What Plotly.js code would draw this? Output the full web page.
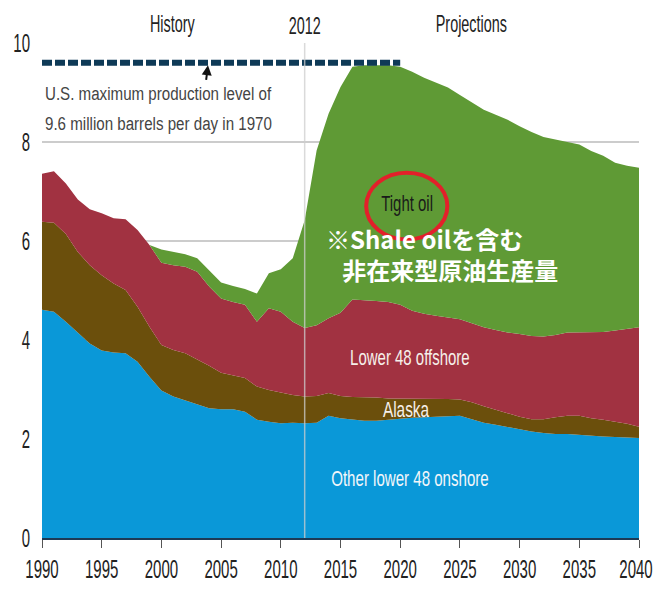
<!DOCTYPE html>
<html>
<head>
<meta charset="utf-8">
<script src="https://cdn.plot.ly/plotly-3.0.1.min.js"></script>
<style>
  html, body { margin: 0; padding: 0; background: #ffffff; }
  #chart { width: 654px; height: 591px; }
</style>
</head>
<body>
<div id="chart"></div>
<script>
// ---- data (million barrels per day) ----
const years = [1990,1991,1992,1993,1994,1995,1996,1997,1998,1999,
               2000,2001,2002,2003,2004,2005,2006,2007,2008,2009,
               2010,2011,2012,2013,2014,2015,2016,2017,2018,2019,
               2020,2021,2022,2023,2024,2025,2026,2027,2028,2029,
               2030,2031,2032,2033,2034,2035,2036,2037,2038,2039,2040];

const onshore = [4.61,4.57,4.37,4.14,3.93,3.79,3.75,3.73,3.56,3.26,
                 2.98,2.86,2.78,2.71,2.62,2.60,2.60,2.55,2.39,2.35,
                 2.32,2.33,2.32,2.33,2.47,2.42,2.39,2.37,2.37,2.39,
                 2.42,2.43,2.44,2.45,2.47,2.47,2.40,2.33,2.29,2.24,
                 2.19,2.15,2.12,2.10,2.10,2.08,2.06,2.05,2.04,2.03,2.02];

const alaska = [1.78,1.80,1.77,1.64,1.58,1.52,1.39,1.28,1.11,1.01,
                0.92,0.94,0.95,0.90,0.86,0.74,0.68,0.68,0.67,0.64,
                0.62,0.56,0.54,0.54,0.46,0.45,0.46,0.48,0.47,0.43,
                0.40,0.39,0.37,0.36,0.34,0.33,0.34,0.33,0.30,0.27,
                0.26,0.25,0.28,0.34,0.37,0.39,0.36,0.34,0.31,0.28,0.23];

const offshore = [0.97,1.04,1.02,1.06,1.13,1.25,1.32,1.43,1.55,1.65,
                  1.66,1.71,1.75,1.77,1.60,1.50,1.49,1.48,1.31,1.65,
                  1.63,1.48,1.38,1.43,1.51,1.68,1.97,1.96,1.95,1.95,
                  1.89,1.77,1.72,1.68,1.65,1.62,1.60,1.60,1.61,1.64,
                  1.67,1.68,1.67,1.66,1.68,1.68,1.74,1.77,1.84,1.91,2.01];

const tightOil = [0,0,0,0,0,0,0,0,0,0,
                  0.27,0.27,0.25,0.27,0.33,0.32,0.32,0.32,0.57,0.71,
                  0.86,1.28,2.18,3.53,4.13,4.56,4.70,4.74,4.76,4.78,
                  4.81,4.83,4.77,4.71,4.64,4.53,4.46,4.39,4.35,4.30,
                  4.20,4.12,4.03,3.95,3.85,3.80,3.66,3.56,3.39,3.30,3.22];

const maxLevelYears = [1990, 2020];
const maxLevelValue = [9.6, 9.6];

const xTicks = [1990,1995,2000,2005,2010,2015,2020,2025,2030,2035,2040];
const yTicks = [0,2,4,6,8,10];

// ---- styling ----
const SANS = '"Liberation Sans", Arial, sans-serif';
const CJK = '"Noto Sans CJK JP", "Noto Sans CJK SC", sans-serif';

function area(name, y, color) {
  return {
    x: years, y: y, name: name, type: 'scatter', mode: 'lines',
    stackgroup: 'one', line: {width: 0, color: color},
    fillcolor: color, hoverinfo: 'x+y+name'
  };
}

const traces = [
  area('Other lower 48 onshore', onshore, '#0a98d8'),
  area('Alaska', alaska, '#6b4f0c'),
  area('Lower 48 offshore', offshore, '#a13241'),
  area('Tight oil', tightOil, '#5f9a35'),
  {
    x: maxLevelYears, y: maxLevelValue, type: 'scatter', mode: 'lines',
    name: 'max level', line: {color: '#0e3a57', width: 6, dash: '10px,3px'},
    hoverinfo: 'skip'
  }
];

// horizontal condensing factor per annotation (the reference uses a narrow face)
const annSqueeze = [0.6, 0.6, 0.6, 0.84, 0.84, 1, 0.68, 1, 0.68, 0.7, 0.685];
const tickSqueeze = 0.6;

const layout = {
  width: 654, height: 591,
  margin: {l: 42, r: 15, t: 43, b: 53},
  paper_bgcolor: '#ffffff', plot_bgcolor: '#ffffff',
  showlegend: false,
  font: {family: SANS, color: '#222222'},
  xaxis: {
    range: [1990, 2040], tickvals: xTicks, ticktext: xTicks.map(String),
    showgrid: false, zeroline: false,
    showline: true, linecolor: '#1d3a55', linewidth: 2,
    ticks: 'outside', ticklen: 8, tickcolor: '#555555', tickwidth: 1,
    ticklabeloverflow: 'allow',
    tickfont: {family: SANS, size: 25, color: '#222222'}
  },
  yaxis: {
    range: [0, 10], tickvals: yTicks, ticktext: yTicks.map(String),
    showgrid: true, gridcolor: '#cccccc', gridwidth: 1.5,
    zeroline: false, showline: false, ticks: '',
    ticklabelstandoff: 11,
    tickfont: {family: SANS, size: 25, color: '#222222'}
  },
  shapes: [
    {type: 'line', xref: 'x', yref: 'y', x0: 2012, x1: 2012, y0: 0, y1: 10,
     line: {color: 'rgba(205,205,205,0.75)', width: 1.5}, layer: 'above'},
    {type: 'circle', xref: 'x', yref: 'y', x0: 2017.15, x1: 2023.95, y0: 6.03, y1: 7.38,
     line: {color: '#e3202a', width: 4}, layer: 'above'}
  ],
  annotations: [
    {text: 'History', xref: 'x', yref: 'paper', x: 2000.95, y: 1.0404, yanchor: 'middle',
     showarrow: false, font: {family: SANS, size: 24, color: '#222222'}},
    {text: '2012', xref: 'x', yref: 'paper', x: 2012, y: 1.0354, yanchor: 'middle',
     showarrow: false, font: {family: SANS, size: 24, color: '#222222'}},
    {text: 'Projections', xref: 'x', yref: 'paper', x: 2026.0, y: 1.0404, yanchor: 'middle',
     showarrow: false, font: {family: SANS, size: 24, color: '#222222'}},
    {text: 'U.S. maximum production level of', xref: 'x', yref: 'y',
     x: 1990.05, y: 8.975, xanchor: 'left', align: 'left', showarrow: false,
     font: {family: SANS, size: 18, color: '#444444'}},
    {text: '9.6 million barrels per day in 1970', xref: 'x', yref: 'y',
     x: 1990.05, y: 8.37, xanchor: 'left', align: 'left', showarrow: false,
     font: {family: SANS, size: 18, color: '#444444'}},
    {text: '', xref: 'x', yref: 'y', x: 2003.9, y: 9.55, showarrow: true,
     ax: -2, ay: 16, arrowhead: 2, arrowsize: 1, arrowwidth: 2,
     arrowcolor: '#111111', standoff: 0},
    {text: 'Tight oil', xref: 'x', yref: 'y', x: 2020.53, y: 6.76,
     showarrow: false, font: {family: SANS, size: 22, color: '#1a1a1a'}},
    {text: '<b>※Shale oilを含む<br>&nbsp;&nbsp;&nbsp;非在来型原油生産量</b>', xref: 'x', yref: 'y',
     x: 2013.65, y: 5.74, xanchor: 'left', yanchor: 'middle', align: 'left',
     showarrow: false, font: {family: CJK, size: 24, color: '#ffffff'}},
    {text: 'Lower 48 offshore', xref: 'x', yref: 'y', x: 2020.79, y: 3.64,
     showarrow: false, font: {family: SANS, size: 22, color: '#f6f0ea'}},
    {text: 'Alaska', xref: 'x', yref: 'y', x: 2020.51, y: 2.60,
     showarrow: false, font: {family: SANS, size: 22, color: '#f6f0ea'}},
    {text: 'Other lower 48 onshore', xref: 'x', yref: 'y', x: 2020.8, y: 1.20,
     showarrow: false, font: {family: SANS, size: 22, color: '#f2f6fa'}}
  ]
};

function squeeze(el, f) {
  if (!el || f === 1) return;
  const w = el.getComputedTextLength();
  if (!w) return;
  el.setAttribute('textLength', (w * f).toFixed(1));
  el.setAttribute('lengthAdjust', 'spacingAndGlyphs');
}

Plotly.newPlot('chart', traces, layout, {displayModeBar: false, staticPlot: true})
  .then(function (gd) {
    gd.querySelectorAll('.xtick text, .ytick text').forEach(function (t) {
      squeeze(t, tickSqueeze);
      if (t.textContent === '2040') {
        // keep the last label inside the picture, as in the reference
        const tr = t.getAttribute('transform') || '';
        t.setAttribute('transform', tr + ' translate(-3,0)');
      }
    });
    gd.querySelectorAll('g.annotation').forEach(function (g) {
      const idx = parseInt(g.getAttribute('data-index'), 10);
      const t = g.querySelector('text.annotation-text');
      if (!isNaN(idx) && t) squeeze(t, annSqueeze[idx]);
    });
  });
</script>
</body>
</html>
